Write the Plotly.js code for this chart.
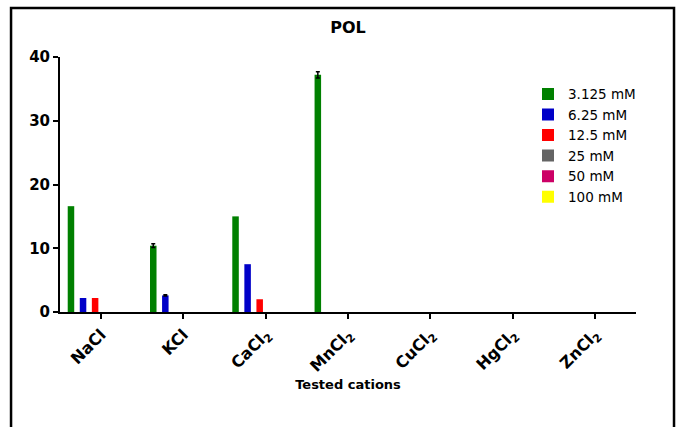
<!DOCTYPE html>
<html>
<head>
<meta charset="utf-8">
<script src="https://cdn.plot.ly/plotly-3.0.1.min.js"></script>
<style>html,body{margin:0;padding:0;background:#fff;}#chart{width:679px;height:427px;}</style>
</head>
<body>
<div id="chart"></div>
<script>
const categories = ["NaCl", "KCl", "CaCl2", "MnCl2", "CuCl2", "HgCl2", "ZnCl2"];
const tickLabels = ["NaCl", "KCl", "CaCl<sub>2</sub>", "MnCl<sub>2</sub>", "CuCl<sub>2</sub>", "HgCl<sub>2</sub>", "ZnCl<sub>2</sub>"];
const seriesNames = ["3.125 mM", "6.25 mM", "12.5 mM", "25 mM", "50 mM", "100 mM"];
const v3125 = [16.6, 10.4, 15.0, 37.2, 0, 0, 0];
const e3125 = [NaN, 0.3, NaN, 0.5, NaN, NaN, NaN];
const v625 = [2.2, 2.6, 7.5, 0, 0, 0, 0];
const e625 = [NaN, 0.1, NaN, NaN, NaN, NaN, NaN];
const v125 = [2.2, 0, 2.0, 0, 0, 0, 0];
const v25 = [0, 0, 0, 0, 0, 0, 0];
const v50 = [0, 0, 0, 0, 0, 0, 0];
const v100 = [0, 0, 0, 0, 0, 0, 0];
const colors = ["#008000", "#0000C8", "#FF0000", "#646464", "#CC0066", "#FFFF00"];

const values = [v3125, v625, v125, v25, v50, v100];
const errs = [e3125, e625, null, null, null, null];
const traces = values.map((v, i) => {
  const t = {
    type: "bar", name: seriesNames[i], x: categories, y: v,
    marker: {color: colors[i], line: {width: 0}}
  };
  if (errs[i]) t.error_y = {type: "data", array: errs[i], visible: true, color: "#000", thickness: 1.5, width: 2};
  return t;
});

const F = "DejaVu Sans, Liberation Sans, Arial, sans-serif";
const layout = {
  width: 679, height: 427,
  margin: {l: 60, r: 43, t: 57, b: 115},
  paper_bgcolor: "#fff", plot_bgcolor: "#fff",
  barmode: "group", bargap: 0.12, bargroupgap: 0.46,
  showlegend: true,
  title: {text: "<b>POL</b>", font: {family: F, size: 16, color: "#000"}, x: 0.5, xref: "paper", xanchor: "center", y: 0.937, yanchor: "middle"},
  xaxis: {
    type: "category", categoryorder: "array", categoryarray: categories,
    tickmode: "array", tickvals: categories, ticktext: tickLabels,
    tickangle: -45, ticks: "outside", ticklen: 5, tickwidth: 2, tickcolor: "#000",
    showline: true, linecolor: "#000", linewidth: 2, showgrid: false, zeroline: false,
    tickfont: {family: F, size: 16, color: "#000", weight: "bold"},
    title: {text: "<b>Tested cations</b>", font: {family: F, size: 13, color: "#000"}, standoff: 3}
  },
  yaxis: {
    range: [0, 40], tickvals: [0, 10, 20, 30, 40], ticks: "outside", ticklen: 5, tickwidth: 2, tickcolor: "#000",
    showline: true, linecolor: "#000", linewidth: 2, showgrid: false, zeroline: false,
    tickfont: {family: F, size: 15, color: "#000", weight: "bold"}
  },
  legend: {x: 0.8125, y: 0.915, xanchor: "left", yanchor: "top", bgcolor: "rgba(0,0,0,0)",
    font: {family: F, size: 13.5, color: "#000"}, tracegroupgap: 0},
  shapes: [{type: "rect", xref: "paper", yref: "paper", x0: -0.085, x1: 1.066, y0: -0.6, y1: 1.192,
    line: {color: "#000", width: 2.5}, fillcolor: "rgba(0,0,0,0)"}]
};
Plotly.newPlot("chart", traces, layout, {displayModeBar: false, staticPlot: true});
</script>
</body>
</html>
